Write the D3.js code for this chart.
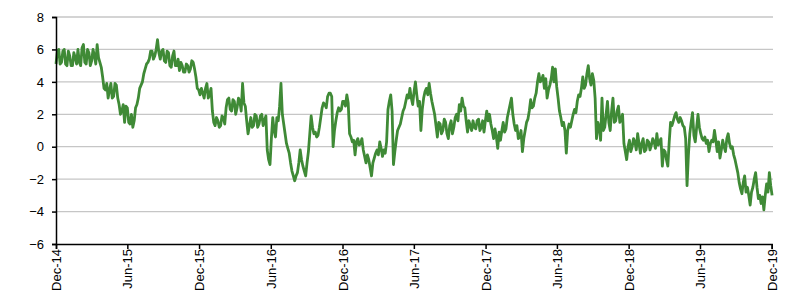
<!DOCTYPE html>
<html>
<head>
<meta charset="utf-8">
<script src="https://cdn.jsdelivr.net/npm/d3@7"></script>
<style>
  body { margin: 0; background: #fff; }
  svg text { font-family: "Liberation Sans", Arial, sans-serif; font-size: 13px; fill: #000; }
</style>
</head>
<body>
<div id="chart"></div>
<script>
// readings taken twice a week: start of week (weeklyValues) and mid-week (midweekValues)
var startDate = '2014-12-01';
var weeklyValues = [
  5.1, 6.0, 5.2, 6.0, 5.0, 5.6, 5.0, 5.5, 6.0, 5.0,
  6.3, 5.1, 5.8, 5.3, 5.6, 6.3, 5.2, 4.3, 3.5, 3.0,
  3.9, 3.1, 3.8, 2.6, 2.2, 1.5, 2.4, 1.4, 1.2, 2.4,
  3.0, 3.8, 4.5, 5.1, 5.4, 5.9, 5.6, 6.6, 5.4, 6.0,
  5.2, 5.8, 4.9, 5.9, 5.0, 4.7, 5.0, 4.6, 5.0, 4.8,
  5.2, 4.3, 3.5, 3.6, 3.0, 3.9, 3.2, 2.2, 1.3, 1.6,
  1.3, 1.8, 2.4, 3.0, 2.2, 2.8, 2.4, 2.8, 3.9, 2.5,
  0.8, 1.8, 1.3, 1.9, 1.4, 2.0, 1.6, -0.2, -1.1, 1.8,
  0.6, 1.6, 3.9, 1.4, 0.2, -0.4, -1.5, -2.1, -1.6, -0.2,
  -1.2, -1.8, -0.3, 1.9, 0.8, 0.6, 1.2, 2.4, 2.6, 3.1,
  3.3, 0.0, 1.6, 2.4, 2.3, 2.8, 3.2, 0.8, 0.3, -0.5,
  0.5, 0.2, -0.2, -1.0, -0.8, -1.8, -0.7, -0.2, 0.3, -0.6,
  -0.4, 2.3, 3.2, -1.1, 0.4, 1.2, 1.8, 2.4, 3.2, 3.6,
  2.6, 4.0, 2.5, 1.0, 3.0, 3.6, 3.9, 2.8, 2.0, 0.6,
  1.4, 1.0, 1.5, 0.5, 1.6, 1.2, 2.0, 2.6, 3.0, 2.4,
  0.9, 1.3, 1.6, 1.1, 1.7, 1.2, 0.9, 2.2, 2.0, 1.0,
  1.1, -0.1, 0.4, 1.5, 1.1, 2.2, 3.0, 1.4, 1.3, 0.6,
  -0.3, 1.0, 1.7, 2.9, 2.5, 3.3, 4.5, 4.1, 3.6, 3.0,
  3.8, 4.9, 4.8, 3.0, 1.8, 1.5, -0.4, 1.4, 1.6, 2.3,
  2.8, 3.1, 4.3, 3.8, 5.0, 3.8, 4.1, 0.5, 1.2, 3.0,
  1.2, 2.8, 1.0, 3.0, 1.6, 2.5, 1.7, 0.2, -0.8, 0.4,
  0.0, 0.3, 0.8, -0.4, 0.5, -0.2, 0.3, 0.1, 0.3, 0.8,
  0.3, -1.2, -0.3, -1.2, 1.5, 1.6, 2.1, 1.5, 1.6, 1.2,
  -2.4, 0.8, 2.1, 0.3, 2.0, 0.8, 0.4, 0.2, -0.3, 0.4,
  1.0, -0.3, -0.7, 0.4, -0.3, 0.8, -0.1, -0.5, -1.2, -2.2,
  -2.9, -1.8, -2.5, -3.6, -2.5, -1.6, -3.2, -3.5, -3.9, -2.3,
  -1.6, -3.0
];
var midweekValues = [
  5.9, 5.1, 5.9, 5.1, 5.9, 5.0, 5.8, 5.1, 5.2, 6.1,
  5.2, 6.0, 5.0, 6.0, 5.1, 5.5, 4.9, 3.6, 3.9, 3.5,
  3.0, 3.9, 3.0, 2.0, 2.6, 2.5, 1.5, 2.0, 1.6, 2.6,
  3.6, 4.0, 4.8, 5.2, 5.9, 5.4, 6.0, 5.8, 5.9, 5.3,
  5.9, 5.0, 5.6, 5.0, 5.4, 5.2, 4.6, 5.1, 4.6, 5.3,
  4.8, 3.6, 3.2, 3.3, 3.6, 3.0, 3.6, 1.5, 1.8, 1.2,
  1.9, 1.4, 2.9, 2.3, 2.9, 2.0, 3.0, 2.2, 2.7, 1.6,
  1.3, 1.2, 2.0, 1.2, 1.9, 1.3, 1.9, -0.8, 0.5, 1.0,
  1.8, 2.5, 2.0, 0.8, -0.1, -1.0, -1.8, -1.8, -1.0, -0.8,
  -1.5, -1.0, 0.8, 1.2, 0.9, 0.7, 1.8, 2.7, 2.4, 3.3,
  3.1, 1.0, 2.1, 2.2, 2.8, 2.5, 2.7, 0.6, 0.4, 0.3,
  0.1, 0.5, -0.6, -0.5, -1.3, -1.0, -0.4, -0.5, -0.1, -0.2,
  0.3, 2.8, 2.2, -0.3, 1.0, 1.4, 2.2, 2.8, 3.0, 3.0,
  3.4, 3.2, 2.8, 2.3, 3.4, 3.2, 3.3, 2.4, 1.3, 1.5,
  0.8, 1.7, 0.8, 1.3, 0.8, 1.8, 1.6, 2.2, 2.5, 1.6,
  1.6, 1.0, 1.2, 1.6, 1.0, 1.6, 1.6, 1.6, 1.4, 0.5,
  0.6, 0.9, 1.0, 0.9, 1.8, 2.6, 2.0, 1.0, 0.5, 1.0,
  0.5, 1.5, 2.2, 2.4, 3.0, 4.0, 4.0, 4.4, 4.2, 3.5,
  4.2, 4.0, 3.7, 2.2, 1.3, 1.0, 1.0, 1.2, 2.0, 2.1,
  3.2, 3.6, 3.6, 4.5, 4.2, 4.5, 3.0, 1.5, 0.4, 1.0,
  2.0, 1.5, 2.2, 1.5, 2.2, 1.5, 2.0, -0.3, 0.0, -0.3,
  0.5, -0.2, 0.2, 0.2, -0.3, 0.4, -0.2, 0.5, -0.1, 0.1,
  0.5, -0.2, -0.8, 0.3, 1.3, 1.9, 1.7, 1.8, 1.3, 0.5,
  -0.5, 1.5, 0.7, 1.2, 1.2, 0.5, 0.6, 0.4, 0.2, 0.3,
  0.4, 0.3, -0.2, 0.0, 0.5, 0.2, 0.0, -0.8, -1.6, -2.6,
  -2.2, -2.8, -3.0, -2.8, -2.0, -2.5, -3.0, -3.1, -3.0, -2.8,
  -2.4
];
var yTicks = [-6, -4, -2, 0, 2, 4, 6, 8];
var xTickLabels = ['Dec-14', 'Jun-15', 'Dec-15', 'Jun-16', 'Dec-16', 'Jun-17',
                   'Dec-17', 'Jun-18', 'Dec-18', 'Jun-19', 'Dec-19'];

(function () {
    'use strict';
    var width = 800, height = 293;
    var plotLeft = 56, plotRight = 771.7, plotTop = 17, plotBottom = 244;

    var parseDate = d3.timeParse('%Y-%m-%d');
    var parseTick = d3.timeParse('%b-%y');
    var t0 = parseDate(startDate);
    var data = [];
    weeklyValues.forEach(function (v, i) {
        var d = d3.timeWeek.offset(t0, i);
        data.push({ date: d, value: v });
        if (i < midweekValues.length)
            data.push({ date: d3.timeHour.offset(d, 84), value: midweekValues[i] });
    });
    var tickDates = xTickLabels.map(parseTick);

    var x = d3.scaleTime()
        .domain([tickDates[0], tickDates[tickDates.length - 1]])
        .range([plotLeft, plotRight]);
    var y = d3.scaleLinear()
        .domain([-6, 8])
        .range([plotBottom, plotTop]);

    var svg = d3.select('#chart')
        .append('svg')
        .attr('width', width)
        .attr('height', height);

    // gridlines
    svg.append('g')
        .selectAll('line')
        .data(yTicks.filter(function (d) { return d > -6; }))
        .enter().append('line')
        .attr('x1', plotLeft)
        .attr('x2', 773)
        .attr('y1', function (d) { return y(d); })
        .attr('y2', function (d) { return y(d); })
        .attr('stroke', '#c6c6c6')
        .attr('stroke-width', 1.3);

    // series
    var line = d3.line()
        .x(function (d) { return x(d.date); })
        .y(function (d) { return y(d.value); });

    svg.append('path')
        .datum(data)
        .attr('d', line)
        .attr('fill', 'none')
        .attr('stroke', '#3f8a36')
        .attr('stroke-width', 2.8)
        .attr('stroke-linejoin', 'round');

    // y axis
    var yAxis = svg.append('g')
        .attr('transform', 'translate(' + plotLeft + ',0)')
        .call(d3.axisLeft(y).tickValues(yTicks).tickSize(4).tickPadding(8).tickFormat(d3.format('d')));
    yAxis.select('.domain').attr('stroke', '#000').attr('stroke-width', 1.5);
    yAxis.selectAll('.tick line').attr('stroke', '#000').attr('stroke-width', 1.5);
    yAxis.selectAll('text').style('font-size', '13px').attr('fill', '#000');

    // x axis
    var xAxis = svg.append('g')
        .attr('transform', 'translate(0,' + plotBottom + ')')
        .call(d3.axisBottom(x).tickValues(tickDates).tickSize(5).tickFormat(d3.timeFormat('%b-%y')));
    xAxis.select('.domain').attr('stroke', '#000').attr('stroke-width', 1.5);
    xAxis.selectAll('.tick line').attr('stroke', '#000').attr('stroke-width', 1.5);
    xAxis.selectAll('text')
        .style('font-size', '13px')
        .attr('fill', '#000')
        .attr('text-anchor', 'end')
        .attr('transform', 'rotate(-90)')
        .attr('x', -5)
        .attr('y', 0)
        .attr('dy', '0.35em');
})();
</script>
</body>
</html>
